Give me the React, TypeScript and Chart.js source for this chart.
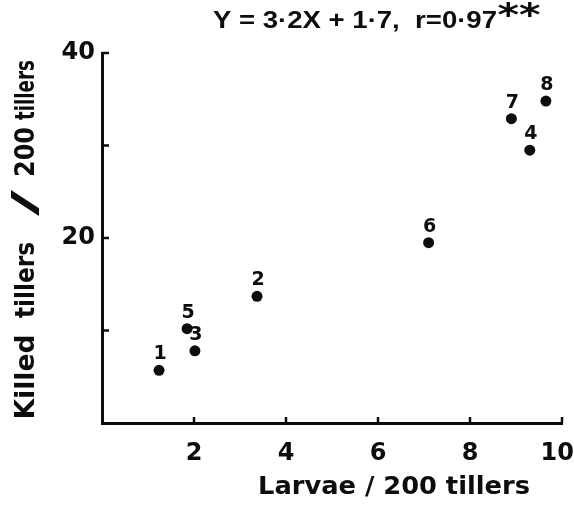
import React, { useEffect, useRef } from "react";
import { Chart, registerables } from "chart.js";

Chart.register(...registerables);

// ---- data ----
const pointIds = ["1", "2", "3", "4", "5", "6", "7", "8"];
const larvae = [1.24, 3.37, 2.02, 9.3, 1.85, 7.1, 8.9, 9.65];
const killed = [5.7, 13.7, 7.8, 29.5, 10.2, 19.5, 32.9, 34.8];
const xTickValues = [2, 4, 6, 8, 10];
const yTickValues = [10, 20, 30, 40];
const yLabeledTicks = [20, 40];
const titleMain = "Y = 3·2X + 1·7,  r=0·97";
const titleSup = "**";
const xTitle = "Larvae / 200 tillers";
const yTitleParts = ["Killed", "tillers", "/", "200", "tillers"];

const INK = "#0d0d0d";
const BOLD = "bold 24px 'DejaVu Sans'";

function drawFitted(
  ctx: CanvasRenderingContext2D,
  text: string,
  cx: number,
  cy: number,
  targetW: number,
  font: string,
  rotate = 0
) {
  ctx.save();
  ctx.font = font;
  const w = ctx.measureText(text).width;
  const s = targetW / w;
  ctx.translate(cx, cy);
  if (rotate) ctx.rotate(rotate);
  ctx.scale(s, 1);
  ctx.textAlign = "center";
  ctx.textBaseline = "middle";
  ctx.fillStyle = INK;
  ctx.fillText(text, 0, 0);
  ctx.restore();
}

const decorPlugin = {
  id: "decor",
  afterDraw(chart: any) {
    const ctx: CanvasRenderingContext2D = chart.ctx;
    const xs = chart.scales.x;
    const ys = chart.scales.y;
    const area = chart.chartArea;
    // inner tick marks
    ctx.save();
    ctx.strokeStyle = INK;
    ctx.lineWidth = 2.5;
    ctx.lineCap = "butt";
    xTickValues.forEach((v) => {
      const px = xs.getPixelForValue(v);
      ctx.beginPath();
      ctx.moveTo(px, area.bottom);
      ctx.lineTo(px, area.bottom - 6);
      ctx.stroke();
    });
    yTickValues.forEach((v) => {
      const py = ys.getPixelForValue(v);
      ctx.beginPath();
      ctx.moveTo(area.left, py);
      ctx.lineTo(area.left + 7, py);
      ctx.stroke();
    });
    ctx.restore();

    // point labels
    const meta = chart.getDatasetMeta(0);
    meta.data.forEach((el: any, i: number) => {
      ctx.save();
      ctx.font = "bold 19px 'DejaVu Sans'";
      ctx.fillStyle = INK;
      ctx.textAlign = "center";
      ctx.textBaseline = "middle";
      ctx.fillText(pointIds[i], el.x + 1, el.y - 16);
      ctx.restore();
    });

    // title
    drawFitted(ctx, titleMain, 355, 21, 284, "bold 24px 'Liberation Sans'");
    drawFitted(ctx, titleSup, 519, 17, 43, "bold 32px 'DejaVu Sans'");

    // x axis title
    drawFitted(ctx, xTitle, 394, 488, 272, BOLD);

    // y axis title parts (bottom to top)
    const yCenters = [377, 280, 203, 152, 90];
    const yWidths = [85, 76, 26, 50, 60];
    const yFonts = [
      "bold 26px 'DejaVu Sans'",
      "bold 26px 'DejaVu Sans'",
      "bold 34px 'DejaVu Sans'",
      "bold 26px 'DejaVu Sans'",
      "bold 26px 'DejaVu Sans'",
    ];
    yTitleParts.forEach((t, i) => {
      drawFitted(ctx, t, 27, yCenters[i], yWidths[i], yFonts[i], -Math.PI / 2);
    });
  },
};

export default function App() {
  const ref = useRef<HTMLCanvasElement | null>(null);
  useEffect(() => {
    if (!ref.current) return;
    const chart = new Chart(ref.current, {
      type: "scatter",
      data: {
        datasets: [
          {
            data: larvae.map((x, i) => ({ x, y: killed[i] })),
            backgroundColor: INK,
            borderWidth: 0,
            pointRadius: 5.5,
          },
        ],
      },
      options: {
        responsive: false,
        animation: false,
        layout: { padding: { top: 53, right: 12, left: 0, bottom: 0 } },
        plugins: {
          legend: { display: false },
          tooltip: { enabled: false },
          title: { display: false },
        },
        scales: {
          x: {
            type: "linear",
            min: 0,
            max: 10,
            grid: { display: false, drawTicks: false },
            border: { display: true, color: INK, width: 3 },
            ticks: {
              stepSize: 2,
              padding: 16,
              color: INK,
              font: { family: "DejaVu Sans", weight: "bold", size: 24 },
              callback: (v: any) => {
                const n = Number(v);
                if (!xTickValues.includes(n)) return "";
                return n === 10 ? "10\u2009\u2009" : String(n);
              },
            },
            afterFit: (s: any) => {
              s.height = 83;
              s.paddingLeft = 0;
              s.paddingRight = 0;
            },
          },
          y: {
            type: "linear",
            min: 0,
            max: 40,
            grid: { display: false, drawTicks: false },
            border: { display: true, color: INK, width: 3 },
            ticks: {
              stepSize: 10,
              padding: 7,
              color: INK,
              font: { family: "DejaVu Sans", weight: "bold", size: 24 },
              callback: (v: any) => (yLabeledTicks.includes(Number(v)) ? String(v) : ""),
            },
            afterFit: (s: any) => {
              s.width = 102;
              s.paddingTop = 0;
              s.paddingBottom = 0;
            },
          },
        },
      },
      plugins: [decorPlugin],
    });
    return () => chart.destroy();
  }, []);
  return (
    <div style={{ position: "absolute", left: 0, top: 0, width: 574, height: 506, background: "#fff" }}>
      <canvas ref={ref} width={574} height={506} style={{ width: 574, height: 506 }} />
    </div>
  );
}
